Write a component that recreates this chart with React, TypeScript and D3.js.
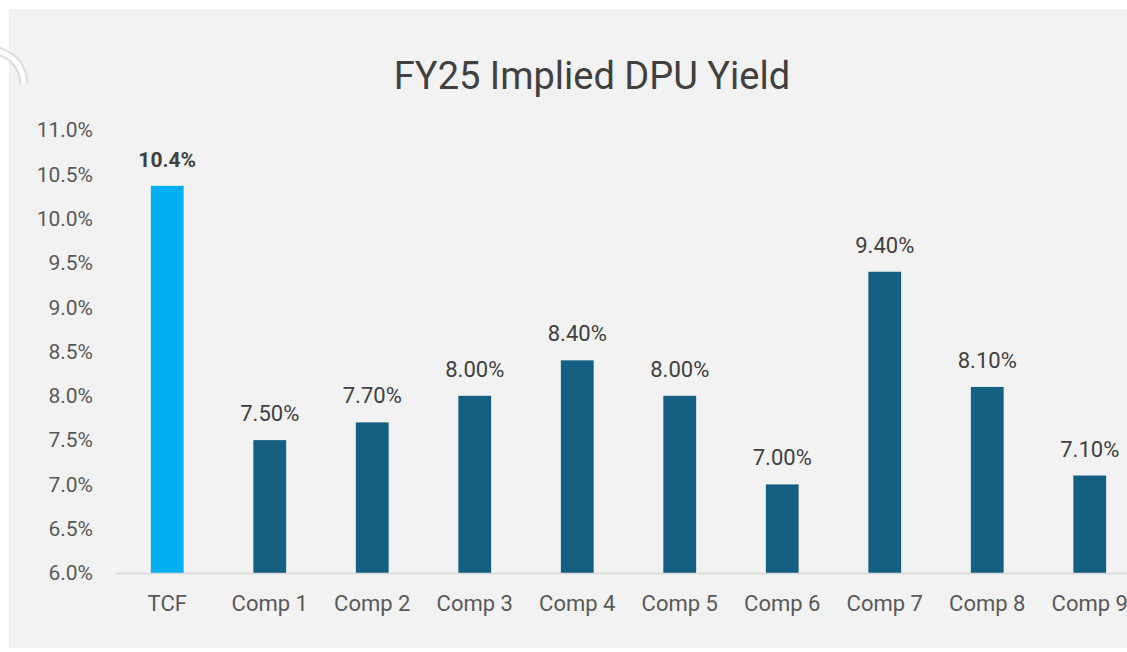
import React, { useRef, useEffect } from "react";
import * as d3 from "d3";

const categories = ["TCF", "Comp 1", "Comp 2", "Comp 3", "Comp 4", "Comp 5", "Comp 6", "Comp 7", "Comp 8", "Comp 9"];
const yields = [10.37, 7.5, 7.7, 8.0, 8.4, 8.0, 7.0, 9.4, 8.1, 7.1];
const yTicks = [6.0, 6.5, 7.0, 7.5, 8.0, 8.5, 9.0, 9.5, 10.0, 10.5, 11.0];

const FONT = "Roboto, 'Open Sans', sans-serif";

export default function App() {
  const ref = useRef<SVGSVGElement>(null);

  useEffect(() => {
    const svg = d3.select(ref.current);
    svg.selectAll("*").remove();

    const width = 1127;
    const height = 652;

    // chart area background
    svg.append("rect").attr("x", 0).attr("y", 0).attr("width", width).attr("height", height).attr("fill", "#ffffff");
    svg.append("rect").attr("x", 9).attr("y", 9).attr("width", width).attr("height", 639).attr("fill", "#f2f2f2");

    // faint decoration at top-left corner
    const deco = "M -6 50 Q 22 56 24 84";
    svg.append("path").attr("d", deco).attr("fill", "none").attr("stroke", "#dcdcdc").attr("stroke-width", 9);
    svg.append("path").attr("d", deco).attr("fill", "none").attr("stroke", "#ffffff").attr("stroke-width", 5);

    const x = d3.scaleBand().domain(categories).range([116, 1141]).paddingInner(0.68).paddingOuter(0.34);
    const y = d3.scaleLinear().domain([6, 11]).range([573, 130]);

    // title
    svg.append("text").attr("x", 592).attr("y", 89).attr("text-anchor", "middle")
      .attr("font-family", FONT).attr("font-size", 38).attr("fill", "#404040").text("FY25 Implied DPU Yield");

    // y axis labels
    svg.append("g").selectAll("text").data(yTicks).join("text")
      .attr("x", 93).attr("y", (d) => y(d)).attr("dy", "0.35em").attr("text-anchor", "end")
      .attr("font-family", FONT).attr("font-size", 21).attr("fill", "#595959")
      .text((d) => d.toFixed(1) + "%");

    // bars
    svg.append("g").selectAll("rect").data(yields).join("rect")
      .attr("x", (_, i) => x(categories[i])!)
      .attr("y", (d) => y(d))
      .attr("width", x.bandwidth())
      .attr("height", (d) => y(6) - y(d))
      .attr("fill", (_, i) => (i === 0 ? "#00b0f0" : "#156082"));

    // baseline
    svg.append("line").attr("x1", 116).attr("x2", width).attr("y1", 573.5).attr("y2", 573.5)
      .attr("stroke", "#d9d9d9").attr("stroke-width", 1.5);

    // data labels
    svg.append("g").selectAll("text").data(yields).join("text")
      .attr("x", (_, i) => x(categories[i])! + x.bandwidth() / 2)
      .attr("y", (d) => y(d) - 19)
      .attr("text-anchor", "middle")
      .attr("font-family", FONT)
      .attr("font-size", (_, i) => (i === 0 ? 21 : 22))
      .attr("font-weight", (_, i) => (i === 0 ? "bold" : "normal"))
      .attr("fill", "#404040")
      .text((d, i) => (i === 0 ? d.toFixed(1) + "%" : d.toFixed(2) + "%"));

    // category labels
    svg.append("g").selectAll("text").data(categories).join("text")
      .attr("x", (d) => x(d)! + x.bandwidth() / 2)
      .attr("y", 611)
      .attr("text-anchor", "middle")
      .attr("font-family", FONT).attr("font-size", 22).attr("fill", "#595959")
      .text((d) => d);
  }, []);

  return (
    <svg
      ref={ref}
      width={1127}
      height={652}
      style={{ position: "absolute", left: 0, top: 0, display: "block" }}
    ></svg>
  );
}
